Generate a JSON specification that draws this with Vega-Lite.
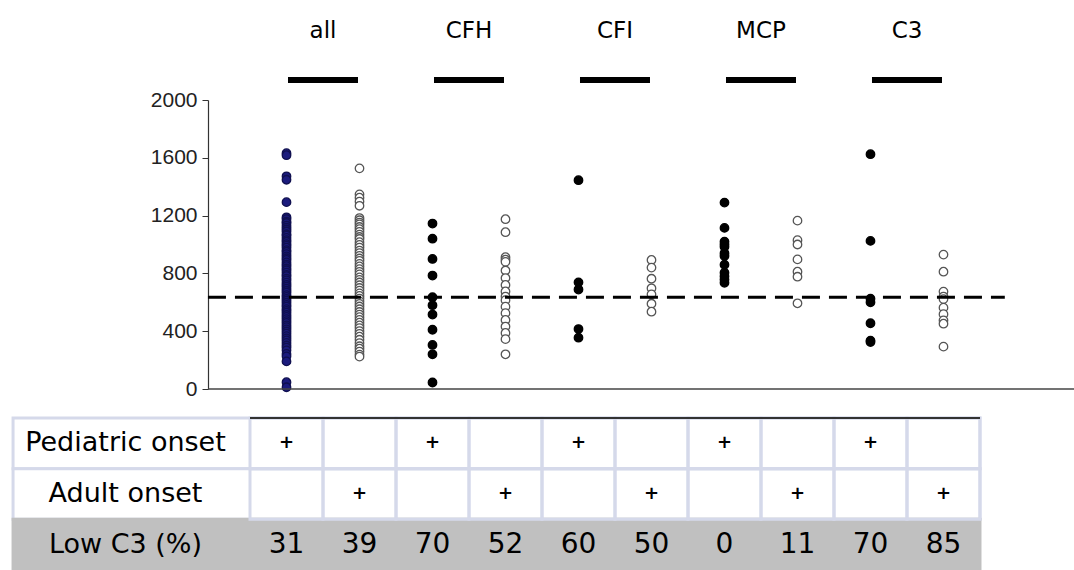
{
  "$schema": "https://vega.github.io/schema/vega-lite/v6.json",
  "width": 866,
  "height": 289,
  "autosize": {"type": "none"},
  "padding": {"left": 208, "top": 100, "right": 0, "bottom": 181},
  "background": "white",
  "config": {"view": {"stroke": null}, "font": "DejaVu Sans"},
  "datasets": {
    "groups": [{"group": "all"}, {"group": "CFH"}, {"group": "CFI"}, {"group": "MCP"}, {"group": "C3"}],
    "rows": [{"row": "Pediatric onset"}, {"row": "Adult onset"}, {"row": "Low C3 (%)"}],
    "threshold": [{"threshold": 635}],
    "cells": [
      {"row": "Pediatric onset", "group": "all", "onset": "Pediatric", "text": "+"},
      {"row": "Pediatric onset", "group": "all", "onset": "Adult", "text": ""},
      {"row": "Pediatric onset", "group": "CFH", "onset": "Pediatric", "text": "+"},
      {"row": "Pediatric onset", "group": "CFH", "onset": "Adult", "text": ""},
      {"row": "Pediatric onset", "group": "CFI", "onset": "Pediatric", "text": "+"},
      {"row": "Pediatric onset", "group": "CFI", "onset": "Adult", "text": ""},
      {"row": "Pediatric onset", "group": "MCP", "onset": "Pediatric", "text": "+"},
      {"row": "Pediatric onset", "group": "MCP", "onset": "Adult", "text": ""},
      {"row": "Pediatric onset", "group": "C3", "onset": "Pediatric", "text": "+"},
      {"row": "Pediatric onset", "group": "C3", "onset": "Adult", "text": ""},
      {"row": "Adult onset", "group": "all", "onset": "Pediatric", "text": ""},
      {"row": "Adult onset", "group": "all", "onset": "Adult", "text": "+"},
      {"row": "Adult onset", "group": "CFH", "onset": "Pediatric", "text": ""},
      {"row": "Adult onset", "group": "CFH", "onset": "Adult", "text": "+"},
      {"row": "Adult onset", "group": "CFI", "onset": "Pediatric", "text": ""},
      {"row": "Adult onset", "group": "CFI", "onset": "Adult", "text": "+"},
      {"row": "Adult onset", "group": "MCP", "onset": "Pediatric", "text": ""},
      {"row": "Adult onset", "group": "MCP", "onset": "Adult", "text": "+"},
      {"row": "Adult onset", "group": "C3", "onset": "Pediatric", "text": ""},
      {"row": "Adult onset", "group": "C3", "onset": "Adult", "text": "+"},
      {"row": "Low C3 (%)", "group": "all", "onset": "Pediatric", "text": "31"},
      {"row": "Low C3 (%)", "group": "all", "onset": "Adult", "text": "39"},
      {"row": "Low C3 (%)", "group": "CFH", "onset": "Pediatric", "text": "70"},
      {"row": "Low C3 (%)", "group": "CFH", "onset": "Adult", "text": "52"},
      {"row": "Low C3 (%)", "group": "CFI", "onset": "Pediatric", "text": "60"},
      {"row": "Low C3 (%)", "group": "CFI", "onset": "Adult", "text": "50"},
      {"row": "Low C3 (%)", "group": "MCP", "onset": "Pediatric", "text": "0"},
      {"row": "Low C3 (%)", "group": "MCP", "onset": "Adult", "text": "11"},
      {"row": "Low C3 (%)", "group": "C3", "onset": "Pediatric", "text": "70"},
      {"row": "Low C3 (%)", "group": "C3", "onset": "Adult", "text": "85"}
    ],
    "points": [
      {"group":"all","onset":"Pediatric","value":1632},{"group":"all","onset":"Pediatric","value":1618},{"group":"all","onset":"Pediatric","value":1472},{"group":"all","onset":"Pediatric","value":1448},{"group":"all","onset":"Pediatric","value":1293},{"group":"all","onset":"Pediatric","value":1188},{"group":"all","onset":"Pediatric","value":1176},{"group":"all","onset":"Pediatric","value":1158},{"group":"all","onset":"Pediatric","value":1149},{"group":"all","onset":"Pediatric","value":1131},{"group":"all","onset":"Pediatric","value":1117},{"group":"all","onset":"Pediatric","value":1104},{"group":"all","onset":"Pediatric","value":1090},{"group":"all","onset":"Pediatric","value":1071},{"group":"all","onset":"Pediatric","value":1062},{"group":"all","onset":"Pediatric","value":1046},{"group":"all","onset":"Pediatric","value":1031},{"group":"all","onset":"Pediatric","value":1019},{"group":"all","onset":"Pediatric","value":1003},{"group":"all","onset":"Pediatric","value":992},{"group":"all","onset":"Pediatric","value":978},{"group":"all","onset":"Pediatric","value":961},{"group":"all","onset":"Pediatric","value":950},{"group":"all","onset":"Pediatric","value":934},{"group":"all","onset":"Pediatric","value":918},{"group":"all","onset":"Pediatric","value":905},{"group":"all","onset":"Pediatric","value":893},{"group":"all","onset":"Pediatric","value":876},{"group":"all","onset":"Pediatric","value":861},{"group":"all","onset":"Pediatric","value":850},{"group":"all","onset":"Pediatric","value":834},{"group":"all","onset":"Pediatric","value":822},{"group":"all","onset":"Pediatric","value":806},{"group":"all","onset":"Pediatric","value":790},{"group":"all","onset":"Pediatric","value":781},{"group":"all","onset":"Pediatric","value":764},{"group":"all","onset":"Pediatric","value":752},{"group":"all","onset":"Pediatric","value":736},{"group":"all","onset":"Pediatric","value":721},{"group":"all","onset":"Pediatric","value":709},{"group":"all","onset":"Pediatric","value":694},{"group":"all","onset":"Pediatric","value":680},{"group":"all","onset":"Pediatric","value":667},{"group":"all","onset":"Pediatric","value":650},{"group":"all","onset":"Pediatric","value":638},{"group":"all","onset":"Pediatric","value":624},{"group":"all","onset":"Pediatric","value":611},{"group":"all","onset":"Pediatric","value":597},{"group":"all","onset":"Pediatric","value":582},{"group":"all","onset":"Pediatric","value":570},{"group":"all","onset":"Pediatric","value":553},{"group":"all","onset":"Pediatric","value":541},{"group":"all","onset":"Pediatric","value":528},{"group":"all","onset":"Pediatric","value":512},{"group":"all","onset":"Pediatric","value":499},{"group":"all","onset":"Pediatric","value":484},{"group":"all","onset":"Pediatric","value":470},{"group":"all","onset":"Pediatric","value":457},{"group":"all","onset":"Pediatric","value":441},{"group":"all","onset":"Pediatric","value":428},{"group":"all","onset":"Pediatric","value":413},{"group":"all","onset":"Pediatric","value":398},{"group":"all","onset":"Pediatric","value":383},{"group":"all","onset":"Pediatric","value":366},{"group":"all","onset":"Pediatric","value":351},{"group":"all","onset":"Pediatric","value":336},{"group":"all","onset":"Pediatric","value":319},{"group":"all","onset":"Pediatric","value":301},{"group":"all","onset":"Pediatric","value":287},{"group":"all","onset":"Pediatric","value":268},{"group":"all","onset":"Pediatric","value":243},{"group":"all","onset":"Pediatric","value":226},{"group":"all","onset":"Pediatric","value":191},{"group":"all","onset":"Pediatric","value":47},{"group":"all","onset":"Pediatric","value":12},
      {"group":"all","onset":"Adult","value":1527},{"group":"all","onset":"Adult","value":1347},{"group":"all","onset":"Adult","value":1324},{"group":"all","onset":"Adult","value":1297},{"group":"all","onset":"Adult","value":1268},{"group":"all","onset":"Adult","value":1183},{"group":"all","onset":"Adult","value":1168},{"group":"all","onset":"Adult","value":1152},{"group":"all","onset":"Adult","value":1139},{"group":"all","onset":"Adult","value":1121},{"group":"all","onset":"Adult","value":1106},{"group":"all","onset":"Adult","value":1088},{"group":"all","onset":"Adult","value":1069},{"group":"all","onset":"Adult","value":1052},{"group":"all","onset":"Adult","value":1038},{"group":"all","onset":"Adult","value":1016},{"group":"all","onset":"Adult","value":997},{"group":"all","onset":"Adult","value":979},{"group":"all","onset":"Adult","value":958},{"group":"all","onset":"Adult","value":941},{"group":"all","onset":"Adult","value":922},{"group":"all","onset":"Adult","value":903},{"group":"all","onset":"Adult","value":887},{"group":"all","onset":"Adult","value":866},{"group":"all","onset":"Adult","value":848},{"group":"all","onset":"Adult","value":829},{"group":"all","onset":"Adult","value":811},{"group":"all","onset":"Adult","value":793},{"group":"all","onset":"Adult","value":772},{"group":"all","onset":"Adult","value":755},{"group":"all","onset":"Adult","value":737},{"group":"all","onset":"Adult","value":718},{"group":"all","onset":"Adult","value":699},{"group":"all","onset":"Adult","value":681},{"group":"all","onset":"Adult","value":662},{"group":"all","onset":"Adult","value":644},{"group":"all","onset":"Adult","value":626},{"group":"all","onset":"Adult","value":607},{"group":"all","onset":"Adult","value":589},{"group":"all","onset":"Adult","value":571},{"group":"all","onset":"Adult","value":552},{"group":"all","onset":"Adult","value":533},{"group":"all","onset":"Adult","value":515},{"group":"all","onset":"Adult","value":497},{"group":"all","onset":"Adult","value":478},{"group":"all","onset":"Adult","value":459},{"group":"all","onset":"Adult","value":440},{"group":"all","onset":"Adult","value":422},{"group":"all","onset":"Adult","value":401},{"group":"all","onset":"Adult","value":382},{"group":"all","onset":"Adult","value":362},{"group":"all","onset":"Adult","value":341},{"group":"all","onset":"Adult","value":318},{"group":"all","onset":"Adult","value":296},{"group":"all","onset":"Adult","value":279},{"group":"all","onset":"Adult","value":259},{"group":"all","onset":"Adult","value":238},{"group":"all","onset":"Adult","value":224},
      {"group":"CFH","onset":"Pediatric","value":1145},{"group":"CFH","onset":"Pediatric","value":1040},{"group":"CFH","onset":"Pediatric","value":900},{"group":"CFH","onset":"Pediatric","value":785},{"group":"CFH","onset":"Pediatric","value":635},{"group":"CFH","onset":"Pediatric","value":580},{"group":"CFH","onset":"Pediatric","value":515},{"group":"CFH","onset":"Pediatric","value":410},{"group":"CFH","onset":"Pediatric","value":305},{"group":"CFH","onset":"Pediatric","value":240},{"group":"CFH","onset":"Pediatric","value":45},
      {"group":"CFH","onset":"Adult","value":1175},{"group":"CFH","onset":"Adult","value":1085},{"group":"CFH","onset":"Adult","value":912},{"group":"CFH","onset":"Adult","value":895},{"group":"CFH","onset":"Adult","value":880},{"group":"CFH","onset":"Adult","value":820},{"group":"CFH","onset":"Adult","value":768},{"group":"CFH","onset":"Adult","value":720},{"group":"CFH","onset":"Adult","value":675},{"group":"CFH","onset":"Adult","value":640},{"group":"CFH","onset":"Adult","value":615},{"group":"CFH","onset":"Adult","value":570},{"group":"CFH","onset":"Adult","value":525},{"group":"CFH","onset":"Adult","value":478},{"group":"CFH","onset":"Adult","value":432},{"group":"CFH","onset":"Adult","value":388},{"group":"CFH","onset":"Adult","value":345},{"group":"CFH","onset":"Adult","value":240},
      {"group":"CFI","onset":"Pediatric","value":1445},{"group":"CFI","onset":"Pediatric","value":738},{"group":"CFI","onset":"Pediatric","value":688},{"group":"CFI","onset":"Pediatric","value":415},{"group":"CFI","onset":"Pediatric","value":355},
      {"group":"CFI","onset":"Adult","value":893},{"group":"CFI","onset":"Adult","value":840},{"group":"CFI","onset":"Adult","value":763},{"group":"CFI","onset":"Adult","value":697},{"group":"CFI","onset":"Adult","value":655},{"group":"CFI","onset":"Adult","value":590},{"group":"CFI","onset":"Adult","value":535},
      {"group":"MCP","onset":"Pediatric","value":1290},{"group":"MCP","onset":"Pediatric","value":1115},{"group":"MCP","onset":"Pediatric","value":1020},{"group":"MCP","onset":"Pediatric","value":1002},{"group":"MCP","onset":"Pediatric","value":985},{"group":"MCP","onset":"Pediatric","value":940},{"group":"MCP","onset":"Pediatric","value":920},{"group":"MCP","onset":"Pediatric","value":860},{"group":"MCP","onset":"Pediatric","value":805},{"group":"MCP","onset":"Pediatric","value":780},{"group":"MCP","onset":"Pediatric","value":758},{"group":"MCP","onset":"Pediatric","value":735},
      {"group":"MCP","onset":"Adult","value":1165},{"group":"MCP","onset":"Adult","value":1030},{"group":"MCP","onset":"Adult","value":1000},{"group":"MCP","onset":"Adult","value":897},{"group":"MCP","onset":"Adult","value":812},{"group":"MCP","onset":"Adult","value":777},{"group":"MCP","onset":"Adult","value":593},
      {"group":"C3","onset":"Pediatric","value":1625},{"group":"C3","onset":"Pediatric","value":1025},{"group":"C3","onset":"Pediatric","value":625},{"group":"C3","onset":"Pediatric","value":600},{"group":"C3","onset":"Pediatric","value":455},{"group":"C3","onset":"Pediatric","value":335},{"group":"C3","onset":"Pediatric","value":325},
      {"group":"C3","onset":"Adult","value":930},{"group":"C3","onset":"Adult","value":812},{"group":"C3","onset":"Adult","value":674},{"group":"C3","onset":"Adult","value":640},{"group":"C3","onset":"Adult","value":622},{"group":"C3","onset":"Adult","value":563},{"group":"C3","onset":"Adult","value":518},{"group":"C3","onset":"Adult","value":475},{"group":"C3","onset":"Adult","value":452},{"group":"C3","onset":"Adult","value":293}
    ]
  },
  "layer": [
    {
      "layer": [
        {
          "data": {"name": "points"},
          "mark": {"type": "circle", "size": 72, "strokeWidth": 1.3, "opacity": 1},
          "encoding": {
            "x": {
              "field": "group", "type": "nominal",
              "scale": {"domain": ["all", "CFH", "CFI", "MCP", "C3"], "paddingInner": 0, "paddingOuter": 0.4658, "align": 0.3088},
              "axis": {"orient": "top", "title": null, "domain": false, "ticks": false, "tickSize": 0, "labelAngle": 0, "labelFontSize": 23, "labelFont": "DejaVu Sans", "labelColor": "black", "labelPadding": 63, "labelBaseline": "alphabetic"}
            },
            "xOffset": {"field": "onset", "type": "nominal", "scale": {"domain": ["Pediatric", "Adult"], "paddingInner": 0, "paddingOuter": 0}},
            "y": {
              "field": "value", "type": "quantitative",
              "scale": {"domain": [0, 2000], "nice": false},
              "axis": {"title": null, "values": [0, 400, 800, 1200, 1600, 2000], "format": "d", "grid": false, "domainColor": "#333333", "domainWidth": 1.2, "tickColor": "#333333", "tickSize": 6, "labelFontSize": 21, "labelFont": "Liberation Sans", "labelColor": "#222222", "labelPadding": 5}
            },
            "fill": {"condition": [{"test": "datum.onset === 'Adult'", "value": "white"}, {"test": "datum.group === 'all'", "value": "#1b1b7d"}], "value": "black"},
            "stroke": {"condition": [{"test": "datum.onset === 'Adult'", "value": "#555555"}, {"test": "datum.group === 'all'", "value": "#101050"}], "value": "black"}
          }
        },
        {
          "data": {"name": "threshold"},
          "mark": {"type": "rule", "color": "black", "strokeWidth": 3, "strokeDash": [18, 9]},
          "encoding": {
            "y": {"field": "threshold", "type": "quantitative"},
            "x": {"datum": "all", "bandPosition": -0.288},
            "x2": {"datum": "C3", "bandPosition": 1.17}
          }
        },
        {
          "data": {"values": [{"base": 0}]},
          "mark": {"type": "rule", "color": "#444444", "strokeWidth": 1.5},
          "encoding": {"y": {"field": "base", "type": "quantitative"}}
        },
        {
          "data": {"name": "groups"},
          "mark": {"type": "tick", "size": 70, "thickness": 6, "color": "black", "opacity": 1},
          "encoding": {
            "x": {"field": "group", "type": "nominal"},
            "y": {"datum": 2138}
          }
        }
      ]
    },
    {
      "layer": [
        {
          "data": {"name": "rows"},
          "mark": {"type": "rect", "strokeWidth": 3},
          "encoding": {
            "y": {
              "field": "row", "type": "nominal",
              "scale": {"domain": ["Pediatric onset", "Adult onset", "Low C3 (%)"], "range": [318, 470], "paddingInner": 0, "paddingOuter": 0},
              "axis": {"orient": "left", "title": null, "domain": false, "ticks": false, "tickSize": 0, "grid": false, "labelPadding": 83, "labelAlign": "center", "labelFontSize": 27, "labelFont": "DejaVu Sans", "labelColor": "black", "labelLimit": 400}
            },
            "x": {"datum": "all", "bandPosition": -1.623},
            "x2": {"datum": "C3", "bandPosition": 1},
            "fill": {"condition": {"test": "datum.row === 'Low C3 (%)'", "value": "#c0c0c0"}, "value": "white"},
            "stroke": {"condition": {"test": "datum.row === 'Low C3 (%)'", "value": "#c0c0c0"}, "value": "#d5d9ea"}
          }
        },
        {
          "data": {"name": "cells"},
          "transform": [{"filter": "datum.row !== 'Low C3 (%)'"}],
          "mark": {"type": "rect", "fill": "transparent", "stroke": "#d5d9ea", "strokeWidth": 3},
          "encoding": {
            "y": {"field": "row", "type": "nominal"},
            "x": {"field": "group", "type": "nominal"},
            "xOffset": {"field": "onset", "type": "nominal"}
          }
        },
        {
          "data": {"name": "rows"},
          "transform": [{"filter": "datum.row === 'Pediatric onset'"}],
          "mark": {"type": "rule", "color": "#333333", "strokeWidth": 2},
          "encoding": {
            "y": {"field": "row", "type": "nominal", "bandPosition": 0},
            "x": {"datum": "all", "bandPosition": 0},
            "x2": {"datum": "C3", "bandPosition": 1}
          }
        },
        {
          "data": {"name": "cells"},
          "transform": [{"filter": "datum.row !== 'Low C3 (%)'"}],
          "mark": {"type": "text", "fontSize": 18, "fontWeight": "bold", "color": "black", "font": "DejaVu Sans"},
          "encoding": {
            "y": {"field": "row", "type": "nominal"},
            "x": {"field": "group", "type": "nominal"},
            "xOffset": {"field": "onset", "type": "nominal"},
            "text": {"field": "text"}
          }
        },
        {
          "data": {"name": "cells"},
          "transform": [{"filter": "datum.row === 'Low C3 (%)'"}],
          "mark": {"type": "text", "fontSize": 28, "color": "black", "font": "DejaVu Sans"},
          "encoding": {
            "y": {"field": "row", "type": "nominal"},
            "x": {"field": "group", "type": "nominal"},
            "xOffset": {"field": "onset", "type": "nominal"},
            "text": {"field": "text"}
          }
        }
      ]
    }
  ],
  "resolve": {"scale": {"y": "independent"}, "axis": {"y": "independent"}}
}
